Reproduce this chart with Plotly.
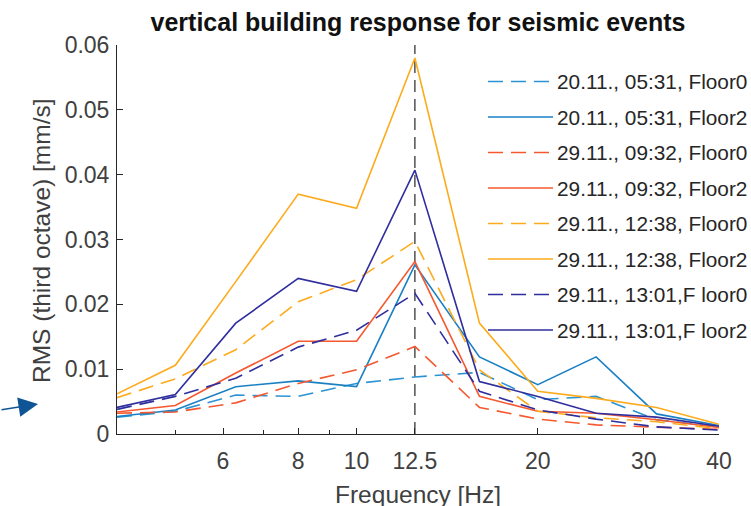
import plotly.graph_objects as go

# ---- data ----
freq = [4, 5, 6.3, 8, 10, 12.5, 16, 20, 25, 31.5, 40]
marker_freq = 12.5

names = [
    "20.11., 05:31, Floor0",
    "20.11., 05:31, Floor2",
    "29.11., 09:32, Floor0",
    "29.11., 09:32, Floor2",
    "29.11., 12:38, Floor0",
    "29.11., 12:38, Floor2",
    "29.11., 13:01,F loor0",
    "29.11., 13:01,F loor2",
]

ev1_floor0 = [0.0026, 0.0035, 0.0060, 0.0058, 0.0078, 0.0088, 0.0095, 0.0053, 0.0058, 0.0022, 0.0011]
ev1_floor2 = [0.0027, 0.0037, 0.0073, 0.0082, 0.0073, 0.0261, 0.0119, 0.0076, 0.0119, 0.0031, 0.0013]
ev2_floor0 = [0.0032, 0.0034, 0.0048, 0.0078, 0.0099, 0.0135, 0.0041, 0.0023, 0.0014, 0.0011, 0.0007]
ev2_floor2 = [0.0034, 0.0044, 0.0094, 0.0143, 0.0143, 0.0266, 0.0058, 0.0035, 0.0032, 0.0022, 0.0010]
ev3_floor0 = [0.0056, 0.0085, 0.0130, 0.0204, 0.0238, 0.0297, 0.0099, 0.0035, 0.0025, 0.0019, 0.0008]
ev3_floor2 = [0.0062, 0.0106, 0.0235, 0.0370, 0.0348, 0.0580, 0.0171, 0.0066, 0.0055, 0.0041, 0.0015]
ev4_floor0 = [0.0038, 0.0058, 0.0086, 0.0134, 0.0160, 0.0217, 0.0066, 0.0037, 0.0023, 0.0011, 0.0006]
ev4_floor2 = [0.0041, 0.0061, 0.0171, 0.0240, 0.0220, 0.0407, 0.0081, 0.0058, 0.0032, 0.0026, 0.0012]

series = [ev1_floor0, ev1_floor2, ev2_floor0, ev2_floor2,
          ev3_floor0, ev3_floor2, ev4_floor0, ev4_floor2]

x_tickvals = [6, 8, 10, 12.5, 20, 30, 40]
x_ticktext = ["6", "8", "10", "12.5", "20", "30", "40"]
x_minor = [5, 7, 9]
y_tickvals = [0, 0.01, 0.02, 0.03, 0.04, 0.05, 0.06]
y_ticktext = ["0", "0.01", "0.02", "0.03", "0.04", "0.05", "0.06"]

# ---- styles ----
colors = ["#2b93d1", "#1a80c4", "#f5582e", "#f5582e",
          "#fdab1c", "#fdab1c", "#2e2e9e", "#2e2e9e"]
dashes = ["15px,8px", "solid"] * 4
FONT = "Liberation Sans, Arial, sans-serif"
AX = "#262626"
TXT = "#404040"

W, H = 751, 506
L, R, T, B = 117, 32, 45, 72
pw, ph = W - L - R, H - T - B


def px2paper(px, py):
    return (px - L) / pw, (H - B - py) / ph


fig = go.Figure()

fig.add_trace(go.Scatter(
    x=[marker_freq, marker_freq], y=[0, y_tickvals[-1]], mode="lines",
    line=dict(color="#262626", width=1.2, dash="12px,7px"),
    showlegend=False, hoverinfo="skip"))

for name, vals, c, d in zip(names, series, colors, dashes):
    fig.add_trace(go.Scatter(
        x=freq, y=vals, mode="lines", name=name,
        line=dict(color=c, width=1.6, dash=d), showlegend=False))

# ---- manual legend (MATLAB style, no box) ----
shapes = []
annotations = []
for i, (name, c, d) in enumerate(zip(names, colors, dashes)):
    py = 81.5 + 35.5 * i
    x0, y0 = px2paper(488, py)
    x1, _ = px2paper(553, py)
    shapes.append(dict(type="line", xref="paper", yref="paper",
                       x0=x0, x1=x1, y0=y0, y1=y0,
                       line=dict(color=c, width=1.6, dash=d)))
    tx, ty = px2paper(555, py)
    annotations.append(dict(xref="paper", yref="paper", x=tx, y=ty,
                            xanchor="left", yanchor="middle", showarrow=False,
                            text=name, font=dict(family=FONT, size=20.8, color="#262626")))

# axis titles
ax_x, ax_y = px2paper(41, 241)
annotations.append(dict(xref="paper", yref="paper", x=ax_x, y=ax_y,
                        xanchor="center", yanchor="middle", showarrow=False,
                        textangle=-90, text="RMS (third octave) [mm/s]",
                        font=dict(family=FONT, size=24.5, color=TXT)))
fx, fy = px2paper(418, 494)
annotations.append(dict(xref="paper", yref="paper", x=fx, y=fy,
                        xanchor="center", yanchor="middle", showarrow=False,
                        text="Frequency [Hz]",
                        font=dict(family=FONT, size=24.5, color=TXT)))

# arrow at left
arx, ary = px2paper(38, 404)
annotations.append(dict(xref="paper", yref="paper", x=arx, y=ary, ax=-40, ay=6,
                        text="", showarrow=True, arrowhead=2, arrowsize=2.6,
                        arrowwidth=1.5, arrowcolor="#0f5596"))

fig.update_layout(
    width=W, height=H, autosize=False,
    margin=dict(l=L, r=R, t=T, b=B),
    paper_bgcolor="white", plot_bgcolor="white",
    font=dict(family=FONT, color=TXT),
    title=dict(text="<b>vertical building response for seismic events</b>",
               x=0.5, xref="paper", xanchor="center",
               y=1 - 22 / H, yref="container", yanchor="middle",
               font=dict(family=FONT, size=25, color="#111111")),
    shapes=shapes, annotations=annotations,
    showlegend=False,
)

fig.update_xaxes(
    type="log", range=[0.60206, 1.60206], automargin=False,
    tickmode="array", tickvals=x_tickvals, ticktext=x_ticktext,
    ticks="inside", ticklen=6, tickcolor=AX, tickwidth=1,
    showline=True, linecolor=AX, linewidth=1, mirror=False,
    showgrid=False, zeroline=False,
    tickfont=dict(family=FONT, size=23, color=TXT),
    ticklabelstandoff=6,
    minor=dict(tickmode="array", tickvals=x_minor, ticks="inside",
               ticklen=4, tickcolor=AX, showgrid=False),
)
fig.update_yaxes(
    range=[0, 0.06], automargin=False,
    tickmode="array", tickvals=y_tickvals, ticktext=y_ticktext,
    ticks="inside", ticklen=6, tickcolor=AX, tickwidth=1,
    showline=True, linecolor=AX, linewidth=1, mirror=False,
    showgrid=False, zeroline=False,
    tickfont=dict(family=FONT, size=23, color=TXT),
    ticklabelstandoff=2,
)

fig.write_html("out.html",
               config={"displayModeBar": False},
               post_script="document.body.style.margin='0px';document.body.style.padding='0px';")
